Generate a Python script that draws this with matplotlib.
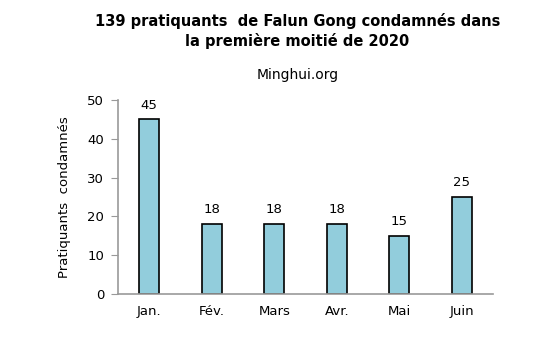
import matplotlib.pyplot as plt

months = ["Jan.", "Fév.", "Mars", "Avr.", "Mai", "Juin"]
counts = [45, 18, 18, 18, 15, 25]

fig = plt.figure(figsize=(5.56, 3.41), dpi=100)
ax = fig.add_axes([0.2122, 0.1378, 0.6745, 0.5689])

x = range(len(months))
bars = ax.bar(x, counts, width=0.32, color="#92CDDC", edgecolor="black", linewidth=1.2)
for b, v in zip(bars, counts):
    ax.text(b.get_x() + b.get_width() / 2, v + 2, str(v), ha="center", va="bottom", fontsize=9.5)

ax.set_xlim(-0.5, len(months) - 0.5)
ax.set_ylim(0, 50)
ax.set_yticks(range(0, 51, 10))
ax.set_xticks(list(x))
ax.set_xticklabels(months)
ax.tick_params(axis="x", length=0, pad=8, labelsize=9.5)
ax.tick_params(axis="y", length=5, color="#999999", labelsize=9.5, pad=5)
for s in ["top", "right"]:
    ax.spines[s].set_visible(False)
for s in ["left", "bottom"]:
    ax.spines[s].set_color("#999999")
    ax.spines[s].set_linewidth(1.2)
ax.set_ylabel("Pratiquants  condamnés", fontsize=9.5, labelpad=12)

fig.text(0.535, 0.908, "139 pratiquants  de Falun Gong condamnés dans\nla première moitié de 2020",
         ha="center", va="center", fontsize=10.5, fontweight="bold", linespacing=1.3)
fig.text(0.535, 0.78, "Minghui.org", ha="center", va="center", fontsize=10)

fig.savefig("out.png", dpi=100)
